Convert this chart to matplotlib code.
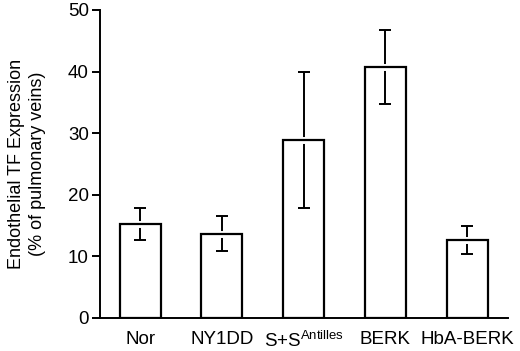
import matplotlib
matplotlib.use("Agg")
import matplotlib.pyplot as plt
import matplotlib.patheffects as pe

# ---------- Data ----------
groups = ["Nor", "NY1DD", "S+S$^{\\mathregular{Antilles}}$", "BERK", "HbA-BERK"]
means = [15.2, 13.7, 28.9, 40.8, 12.7]
errors = [2.6, 2.9, 11.1, 6.0, 2.3]
yticks = [0, 10, 20, 30, 40, 50]

plt.rcParams["font.family"] = ["Liberation Sans", "DejaVu Sans"]
plt.rcParams["mathtext.fontset"] = "custom"
plt.rcParams["mathtext.rm"] = "Liberation Sans"

# ---------- Plotting ----------
fig = plt.figure(figsize=(5.2, 3.51), dpi=100)
ax = fig.add_axes([100 / 520, 33 / 351, 408 / 520, 308 / 351])

x = list(range(len(groups)))
# white fill first, error bars, then outlines with a white halo so the
# error line is broken where it crosses the bar top
ax.bar(x, means, width=0.5, color="white", edgecolor="none", zorder=1)
ax.errorbar(x, means, yerr=errors, fmt="none", ecolor="black",
            elinewidth=1.4, capsize=4, capthick=1.4, zorder=2)
ax.bar(x, means, width=0.5, fill=False, edgecolor="black", linewidth=1.6, zorder=3,
       path_effects=[pe.Stroke(linewidth=5, foreground="white"), pe.Normal()])

ax.set_xlim(-0.49, 4.5)
ax.set_ylim(0, 50)
ax.set_yticks(yticks)
ax.set_xticks(x)
ax.set_xticklabels(groups)

for side in ["top", "right"]:
    ax.spines[side].set_visible(False)
for side in ["left", "bottom"]:
    ax.spines[side].set_linewidth(1.4)
    ax.spines[side].set_zorder(4)

ax.tick_params(axis="y", length=6, width=1.4, labelsize=13.5, pad=2)
ax.tick_params(axis="x", length=0, labelsize=13.5, pad=9)
ax.set_ylabel("Endothelial TF Expression\n(% of pulmonary veins)", fontsize=13,
              linespacing=1.3, labelpad=16)

fig.savefig("out.png", dpi=100)
